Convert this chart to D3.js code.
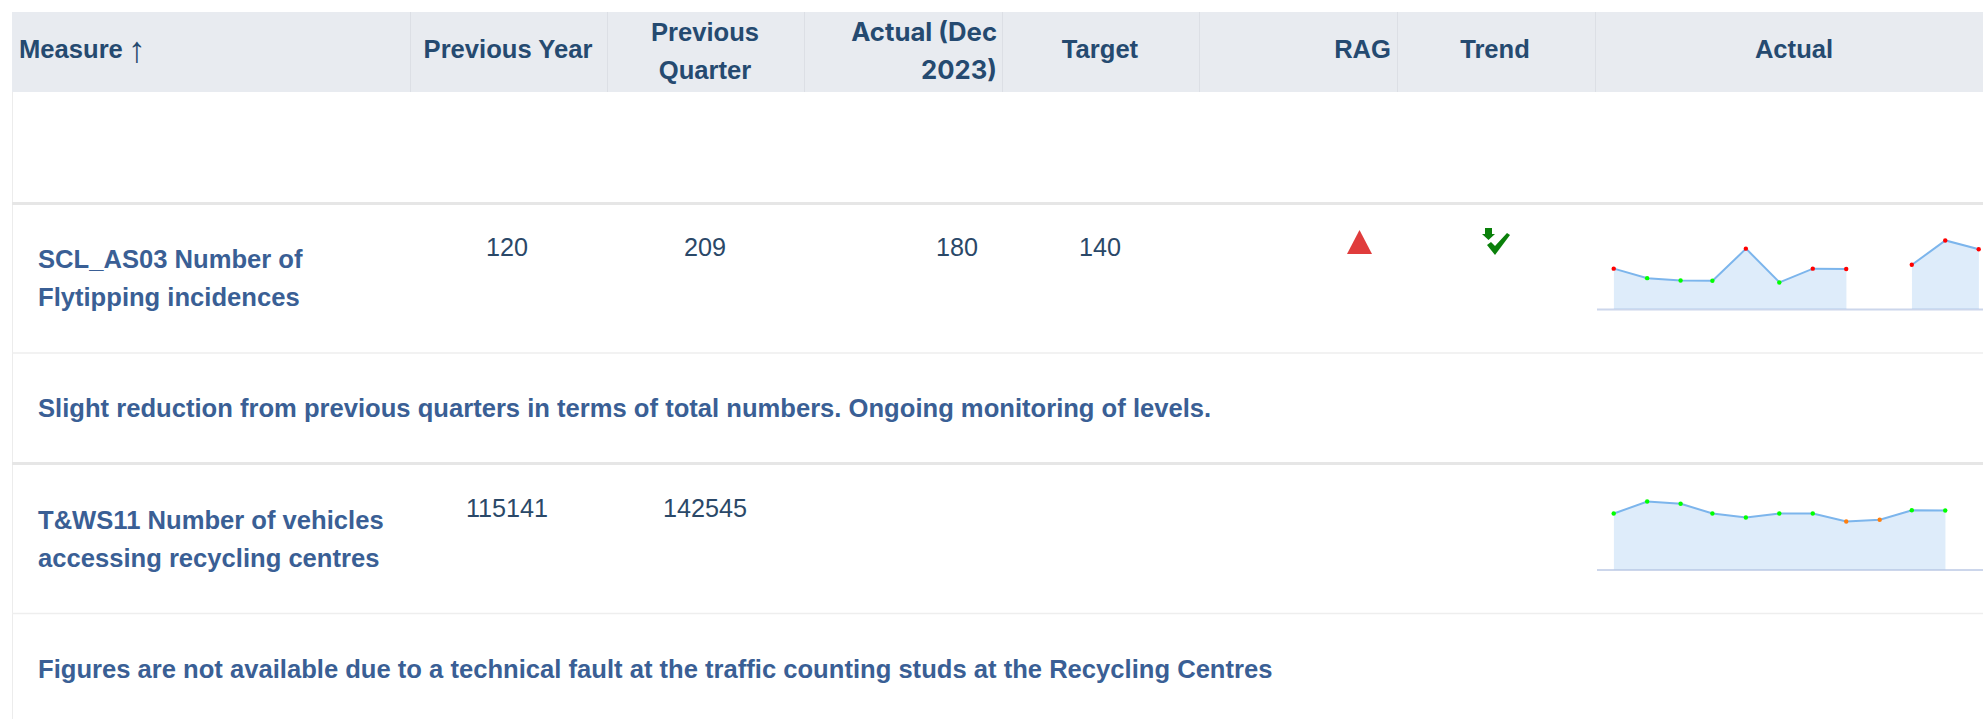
<!DOCTYPE html>
<html><head><meta charset="utf-8">
<script src="https://cdn.jsdelivr.net/npm/d3@7"></script>
<style>html,body{margin:0;padding:0;background:#fff;overflow:hidden}svg{display:block}text{font-family:"Liberation Sans",Arial,sans-serif}</style>
</head><body><div id="c"></div>
<script>
const headers = ["Measure","↑","Previous Year","Previous","Quarter","Actual (Dec","2023)","Target","RAG","Trend","Actual"];
const measures = [["SCL_AS03 Number of","Flytipping incidences"],["T&WS11 Number of vehicles","accessing recycling centres"]];
const comments = ["Slight reduction from previous quarters in terms of total numbers. Ongoing monitoring of levels.","Figures are not available due to a technical fault at the traffic counting studs at the Recycling Centres"];
const previousYear = ["120","115141"];
const previousQuarter = ["209","142545"];
const actualDec = ["180",""];
const target = ["140",""];
const periods = [0,1,2,2.95,3.95,4.95,5.95,6.95,7.95,8.91,9.91,10.91];
const flyValues = [123,94,87,86,184,81,123,122,null,135,209,182];
const flyColors = ["#f00","#0f0","#0f0","#0f0","#f00","#0f0","#f00","#f00",null,"#f00","#f00","#f00"];
const vehValues = [134600,163500,157900,134600,125000,134600,134600,115400,119500,142500,142000];
const vehColors = ["#0f0","#0f0","#0f0","#0f0","#0f0","#0f0","#0f0","#ff7f0e","#ff7f0e","#0f0","#0f0"];

const W=1983,H=719;
const svg=d3.select("#c").append("svg").attr("width",W).attr("height",H);

// header
const colEdges=[12,410,607,804,1002,1199,1397,1595,1983];
svg.append("rect").attr("x",12).attr("y",12).attr("width",W-12).attr("height",80).attr("fill","#e8ebf0");
svg.selectAll("line.sep").data(colEdges.slice(1,-1)).join("line").attr("class","sep")
 .attr("x1",d=>d+.5).attr("x2",d=>d+.5).attr("y1",12).attr("y2",92).attr("stroke","#dcdfe5");
const headColor="#254a70";
const headSpec=[
 {i:0,x:19,a:"start",y:58},
 {i:1,x:128,a:"start",y:62,fs:36,fw:400},
 {i:2,x:508,a:"middle",y:58},
 {i:3,x:705,a:"middle",y:41},
 {i:4,x:705,a:"middle",y:79},
 {i:5,x:997,a:"end",y:41,ff:"Inter",fs:25.7},
 {i:6,x:997,a:"end",y:79,ff:"Inter",fs:25.7},
 {i:7,x:1100,a:"middle",y:58},
 {i:8,x:1391,a:"end",y:58},
 {i:9,x:1495,a:"middle",y:58},
 {i:10,x:1794,a:"middle",y:58}];
svg.selectAll("text.head").data(headSpec).join("text").attr("class","head")
 .attr("x",d=>d.x).attr("y",d=>d.y).attr("text-anchor",d=>d.a)
 .attr("font-size",d=>d.fs||25.6).attr("font-weight",d=>d.fw||700).attr("fill",headColor)
 .style("font-family",d=>d.ff||null).text(d=>headers[d.i]);

// rules
svg.append("line").attr("x1",12.5).attr("x2",12.5).attr("y1",92).attr("y2",H).attr("stroke","#ececec");
[[203.5,3,"#e6e6e6"],[353,1.5,"#eeeeee"],[463.5,3,"#e6e6e6"],[613.5,1.5,"#eeeeee"]].forEach(r=>{
 svg.append("line").attr("x1",12).attr("x2",W).attr("y1",r[0]).attr("y2",r[0]).attr("stroke",r[2]).attr("stroke-width",r[1]);});

// text cells
const blue="#3a5f95",body="#2a4868";
const txt=(x,y,t,a,c,b)=>svg.append("text").attr("x",x).attr("y",y).attr("text-anchor",a).attr("font-size",b?25.6:25.2).attr("font-weight",b?700:400).attr("fill",c).text(t);
const rowY=[[268,306],[529,567]];
const numY=[256,517];
measures.forEach((m,i)=>{m.forEach((t,j)=>txt(38,rowY[i][j],t,"start",blue,true));
 txt(507,numY[i],previousYear[i],"middle",body);
 txt(705,numY[i],previousQuarter[i],"middle",body);
 txt(978,numY[i],actualDec[i],"end",body);
 txt(1100,numY[i],target[i],"middle",body);});
comments.forEach((t,i)=>txt(38,[417,678][i],t,"start",blue,true));

// RAG triangle and trend icon
svg.append("path").attr("d",d3.line()([[1359.5,230],[1372,254],[1347,254]])+"Z").attr("fill","#e03c3c");
const icon=svg.append("g").attr("transform","translate(1482,228)").attr("fill","#0a800a");
icon.append("path").attr("d","M3 0h7v6h3l-6.500 6l-6.500-6h3z");
icon.append("path").attr("d","M5 17l4-3l4 4l12-13l3 2l-15 20z");

// sparklines
const x=d3.scaleLinear().domain([0,10.91]).range([1613.9,1978.9]);
function spark(vals,cols,base,pxPerUnit){
 const y=d3.scaleLinear().domain([0,1]).range([base,base-pxPerUnit]);
 const pts=vals.map((v,i)=>({v,i,c:cols[i]}));
 const def=d=>d.v!=null;
 svg.append("line").attr("x1",1597).attr("x2",W).attr("y1",base+.5).attr("y2",base+.5).attr("stroke","#ccd6eb").attr("stroke-width",2);
 svg.append("path").datum(pts).attr("fill","#7cb5ec").attr("fill-opacity",.25)
  .attr("d",d3.area().defined(def).x(d=>x(periods[d.i])).y0(base).y1(d=>y(d.v)));
 svg.append("path").datum(pts).attr("fill","none").attr("stroke","#7cb5ec").attr("stroke-width",2)
  .attr("d",d3.line().defined(def).x(d=>x(periods[d.i])).y(d=>y(d.v)));
 svg.selectAll(null).data(pts.filter(def)).join("circle").attr("cx",d=>x(periods[d.i])-.2).attr("cy",d=>y(d.v)).attr("r",2.2).attr("fill",d=>d.c);
}
spark(flyValues,flyColors,309,.328);
spark(vehValues,vehColors,569.5,1/2404);
</script></body></html>
